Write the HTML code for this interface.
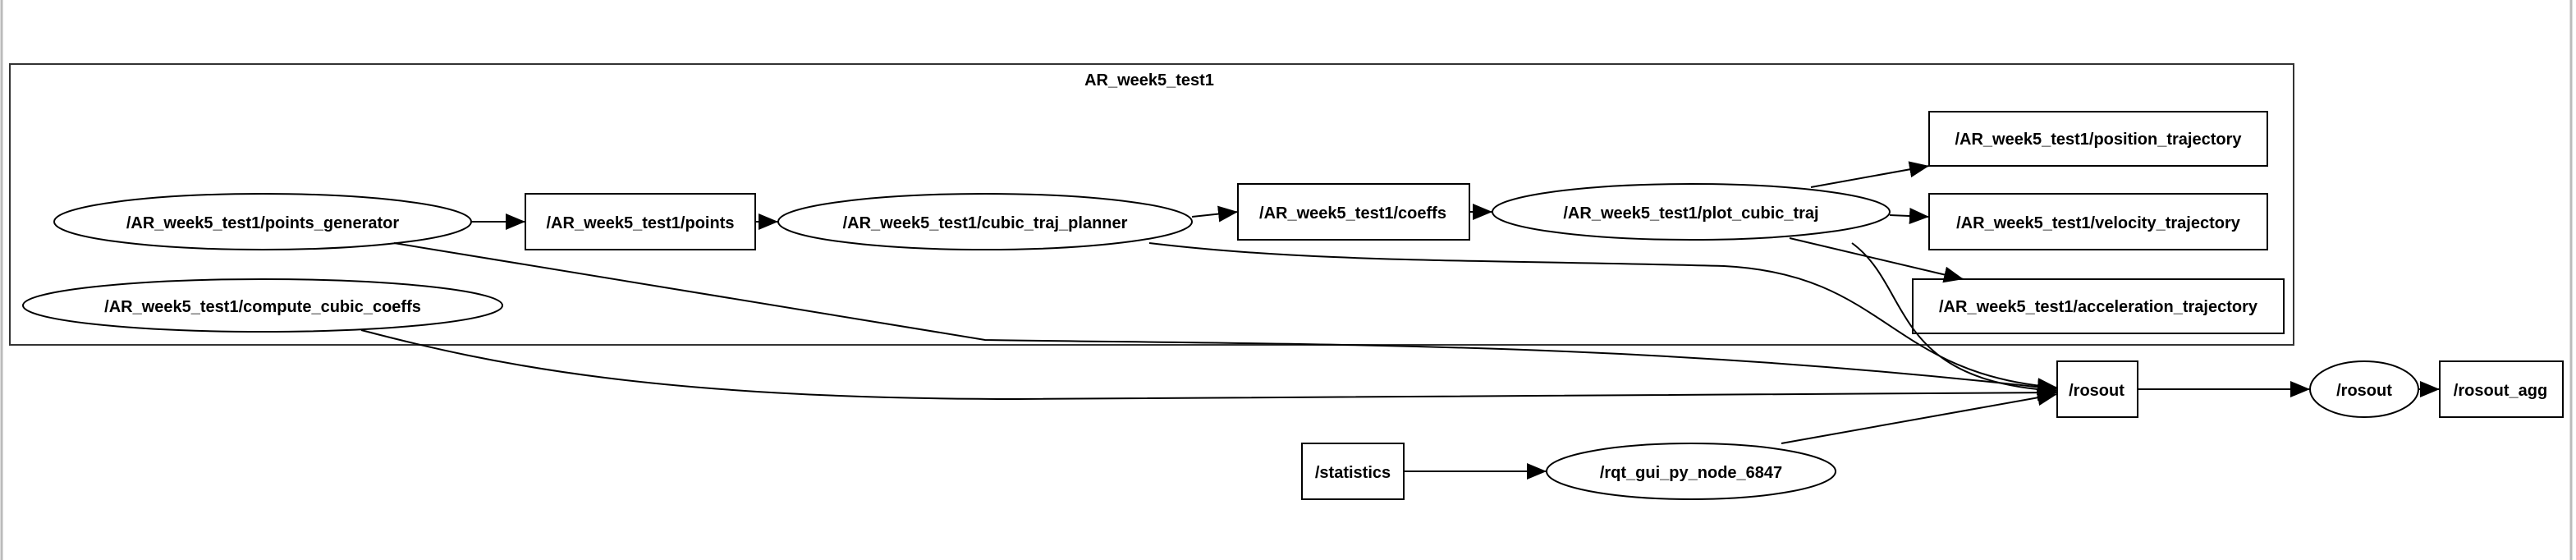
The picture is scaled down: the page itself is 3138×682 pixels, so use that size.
<!DOCTYPE html>
<html><head><meta charset="utf-8"><style>
html,body{margin:0;padding:0;background:#fff;width:3138px;height:682px;overflow:hidden}
svg{display:block}
text{font-family:"Liberation Sans",sans-serif;font-weight:bold;font-size:10px;text-anchor:middle;fill:#000}
</style></head><body>
<svg width="3138" height="682" viewBox="0 0 1569 341" xmlns="http://www.w3.org/2000/svg">
<defs>
<marker id="b" viewBox="0 0 10 10" refX="10" refY="5" markerWidth="12" markerHeight="10" orient="auto" markerUnits="userSpaceOnUse" preserveAspectRatio="none"><path d="M0,0L10,5L0,10z" fill="#000"/></marker></defs>
<rect x="0" y="0" width="1569" height="341" fill="#fff"/>
<line x1="1" y1="0" x2="1" y2="341" stroke="#bbb" stroke-width="1.5"/>
<line x1="1566" y1="0" x2="1566" y2="341" stroke="#bbb" stroke-width="1.5"/>
<rect x="6" y="39" width="1391" height="171" fill="none" stroke="#333" stroke-width="1"/>
<text x="700" y="52">AR_week5_test1</text>
<g fill="none" stroke="#000" stroke-width="1">
<ellipse cx="160" cy="135" rx="127" ry="17"/>
<rect x="320" y="118" width="140" height="34"/>
<ellipse cx="160" cy="186" rx="146" ry="16"/>
<ellipse cx="600" cy="135" rx="126" ry="17"/>
<rect x="754" y="112" width="141" height="34"/>
<ellipse cx="1030" cy="129" rx="121" ry="17"/>
<rect x="1175" y="68" width="206" height="33"/>
<rect x="1175" y="118" width="206" height="34"/>
<rect x="1165" y="170" width="226" height="33"/>
<rect x="1253" y="220" width="49" height="34"/>
<ellipse cx="1440" cy="237" rx="33" ry="17"/>
<rect x="1486" y="220" width="75" height="34"/>
<rect x="793" y="270" width="62" height="34"/>
<ellipse cx="1030" cy="287" rx="88" ry="17"/>
</g>
<g fill="none" stroke="#000" stroke-width="1" marker-end="url(#b)">
<path d="M287,135L320,135"/>
<path d="M460,135L474,135"/>
<path d="M726,132L754,129"/>
<path d="M895,129L909,129"/>
<path d="M1103,114L1175,101"/>
<path d="M1151,131L1175,132"/>
<path d="M1090,145L1196,170"/>
<path d="M240,148L600,207C800,210 1000,208 1253,237"/>
<path d="M220,201C300,222 400,243 620,243C900,243 1100,240 1253,239"/>
<path d="M700,148C800,160 900,158 1050,162C1150,167 1150,228 1253,236"/>
<path d="M1128,148C1165,175 1150,232 1253,238"/>
<path d="M1085,270L1253,240"/>
<path d="M855,287L942,287"/>
<path d="M1302,237L1407,237"/>
<path d="M1473,237L1486,237"/>
</g>
<text x="160" y="139">/AR_week5_test1/points_generator</text>
<text x="390" y="139">/AR_week5_test1/points</text>
<text x="160" y="190">/AR_week5_test1/compute_cubic_coeffs</text>
<text x="600" y="139">/AR_week5_test1/cubic_traj_planner</text>
<text x="824" y="133">/AR_week5_test1/coeffs</text>
<text x="1030" y="133">/AR_week5_test1/plot_cubic_traj</text>
<text x="1278" y="88">/AR_week5_test1/position_trajectory</text>
<text x="1278" y="139">/AR_week5_test1/velocity_trajectory</text>
<text x="1278" y="190">/AR_week5_test1/acceleration_trajectory</text>
<text x="1277" y="241">/rosout</text>
<text x="1440" y="241">/rosout</text>
<text x="1523" y="241">/rosout_agg</text>
<text x="824" y="291">/statistics</text>
<text x="1030" y="291">/rqt_gui_py_node_6847</text>
</svg>
</body></html>
